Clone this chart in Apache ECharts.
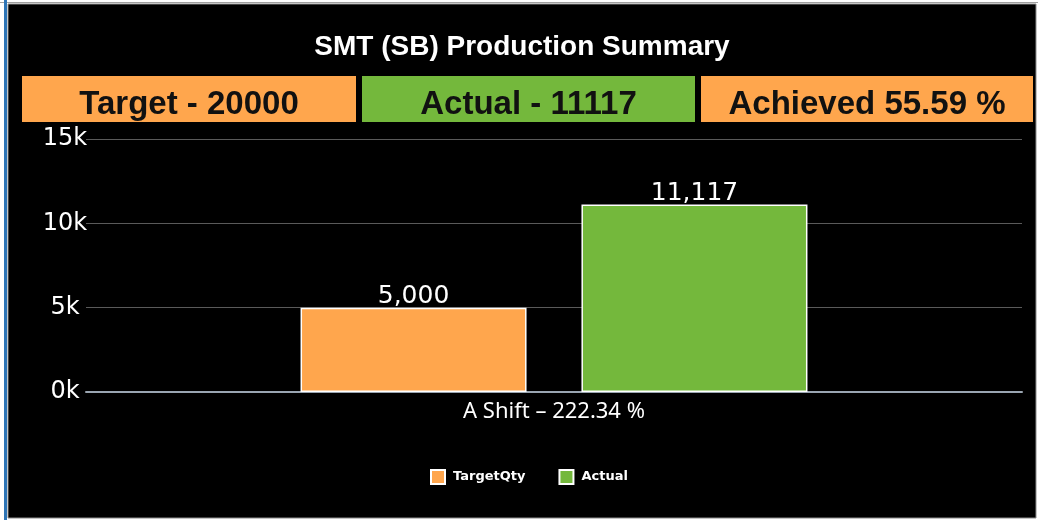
<!DOCTYPE html>
<html>
<head>
<meta charset="utf-8">
<title>SMT (SB) Production Summary</title>
<script src="https://cdn.jsdelivr.net/npm/echarts@6/dist/echarts.min.js"></script>
<style>
  html, body { margin: 0; padding: 0; background: #fff; }
  #chart { width: 1038px; height: 520px; }
</style>
</head>
<body>
<div id="chart"></div>
<script>
//数据
var categories = ['A Shift – 222.34 %'];
var seriesNames = ['TargetQty', 'Actual'];
var targetQty = [5000];
var actualQty = [11117];
var headerTexts = ['Target - 20000', 'Actual - 11117', 'Achieved 55.59 %'];
var yMin = 0, yMax = 15000, yStep = 5000;

var orange = '#ffa64d';
var green = '#74b83c';

//顶部三个色块
var headerBoxes = [
    { x: 22, w: 334, color: orange },
    { x: 362, w: 333, color: green },
    { x: 701, w: 332, color: orange }
];

var graphics = [
    // 黑色面板 + 边框
    { type: 'rect', z: -10, shape: { x: 0, y: 2, width: 1038, height: 1 }, style: { fill: '#a0a0a0' } },
    { type: 'rect', z: -10, shape: { x: 8, y: 4, width: 1028, height: 514 }, style: { fill: '#000', stroke: '#8c8c8c', lineWidth: 1 } },
    { type: 'rect', z: -9, shape: { x: 4, y: 0, width: 3, height: 520 }, style: { fill: '#2e75b6' } },
    // 标题
    {
        type: 'text', x: 522, y: 47,
        style: {
            text: 'SMT (SB) Production Summary', fill: '#fff',
            font: 'bold 28px "Liberation Sans", Arial, sans-serif',
            align: 'center', verticalAlign: 'middle'
        }
    }
];
headerBoxes.forEach(function (b, i) {
    graphics.push({ type: 'rect', shape: { x: b.x, y: 76, width: b.w, height: 46 }, style: { fill: b.color } });
    graphics.push({
        type: 'text', x: b.x + b.w / 2, y: 105,
        style: {
            text: headerTexts[i], fill: '#111',
            font: 'bold 33px "Liberation Sans", Arial, sans-serif',
            align: 'center', verticalAlign: 'middle'
        }
    });
});

var chart = echarts.init(document.getElementById('chart'));
var option = {
    backgroundColor: '#fff',
    animation: false,
    graphic: graphics,
    grid: { left: 86, right: 16, top: 139, bottom: 128 },
    legend: {
        data: seriesNames,
        left: 430, top: 469, padding: 0,
        itemWidth: 14, itemHeight: 14, itemGap: 33,
        icon: 'rect',
        textStyle: {
            color: '#fff', fontWeight: 'bold', fontSize: 13,
            fontFamily: '"DejaVu Sans", sans-serif', padding: [0, 0, 0, 3]
        }
    },
    xAxis: {
        type: 'category',
        data: categories,
        axisLine: { lineStyle: { color: '#9aa5b1', width: 2 } },
        axisTick: { show: false },
        axisLabel: {
            color: '#fff', fontSize: 22, margin: 9,
            fontFamily: '"Noto Sans", sans-serif'
        }
    },
    yAxis: {
        type: 'value',
        min: yMin, max: yMax, interval: yStep,
        axisLine: { show: false },
        axisTick: { show: false },
        splitLine: { lineStyle: { color: '#5a5a5a', width: 1 } },
        axisLabel: {
            color: '#fff', fontSize: 24, margin: 21, align: 'center',
            fontFamily: '"DejaVu Sans", sans-serif',
            padding: [0, 0, 6, 0],
            formatter: function (v) { return (v / 1000) + 'k'; }
        }
    },
    series: [
        {
            name: seriesNames[0], type: 'bar', data: targetQty,
            barWidth: 226, barGap: '24.3%',
            itemStyle: { color: orange, borderColor: '#fff', borderWidth: 1.5 },
            label: {
                show: true, position: 'top', distance: -1, color: '#fff', fontSize: 25,
                fontFamily: '"DejaVu Sans", sans-serif',
                formatter: function (p) { return p.value.toLocaleString('en-US'); }
            }
        },
        {
            name: seriesNames[1], type: 'bar', data: actualQty,
            barWidth: 226,
            itemStyle: { color: green, borderColor: '#fff', borderWidth: 1.5 },
            label: {
                show: true, position: 'top', distance: -2, color: '#fff', fontSize: 25,
                fontFamily: '"DejaVu Sans", sans-serif',
                formatter: function (p) { return p.value.toLocaleString('en-US'); }
            }
        }
    ]
};
chart.setOption(option);
</script>
</body>
</html>
